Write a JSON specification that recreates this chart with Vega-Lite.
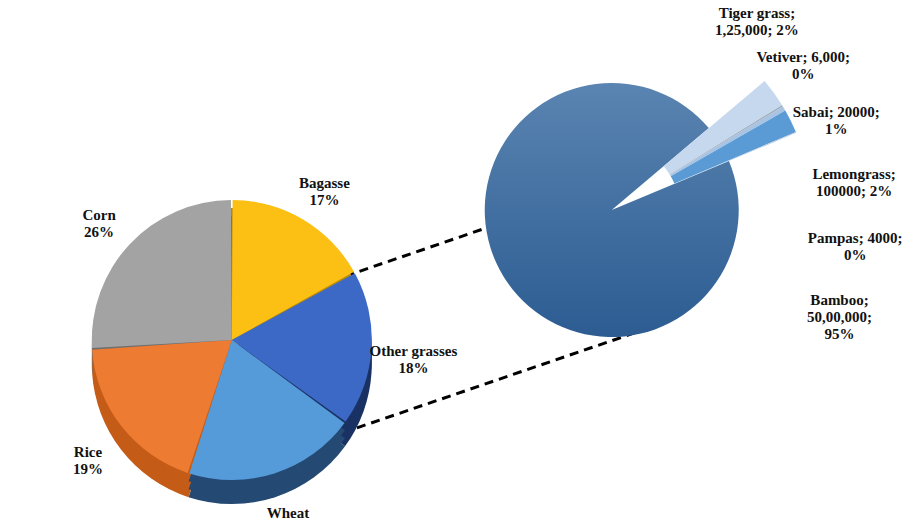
{
  "$schema": "https://vega.github.io/schema/vega-lite/v6.json",
  "width": 902,
  "height": 523,
  "autosize": "none",
  "padding": 0,
  "background": "white",
  "config": {"view": {"stroke": null}, "font": "Liberation Serif"},
  "datasets": {
    "residues": [
      {"pie": "Crop residues", "name": "Bagasse", "share": 17, "i": 1, "label": "Bagasse\n17%"},
      {"pie": "Crop residues", "name": "Other grasses", "share": 18, "i": 2, "label": "Other grasses\n18%"},
      {"pie": "Crop residues", "name": "Wheat", "share": 20, "i": 3, "label": "Wheat\n20%"},
      {"pie": "Crop residues", "name": "Rice", "share": 19, "i": 4, "label": "Rice\n19%"},
      {"pie": "Crop residues", "name": "Corn", "share": 26, "i": 5, "label": "Corn\n26%"}
    ],
    "grasses": [
      {"pie": "Grasses", "name": "Tiger grass", "amount": 125000, "i": 1, "label": "Tiger grass;\n1,25,000; 2%"},
      {"pie": "Grasses", "name": "Vetiver", "amount": 6000, "i": 2, "label": "Vetiver; 6,000;\n0%"},
      {"pie": "Grasses", "name": "Sabai", "amount": 20000, "i": 3, "label": "Sabai; 20000;\n1%"},
      {"pie": "Grasses", "name": "Lemongrass", "amount": 100000, "i": 4, "label": "Lemongrass;\n100000; 2%"},
      {"pie": "Grasses", "name": "Pampas", "amount": 4000, "i": 5, "label": "Pampas; 4000;\n0%"},
      {"pie": "Grasses", "name": "Bamboo", "amount": 5000000, "i": 6, "label": "Bamboo;\n50,00,000;\n95%"}
    ],
    "link": [{"pie": "Crop residues"}, {"pie": "Grasses"}]
  },
  "encoding": {
    "x": {"field": "pie", "type": "nominal", "axis": null,
          "scale": {"type": "point", "domain": ["Crop residues", "Grasses"], "padding": 0.687, "align": 0.444}},
    "y": {"field": "pie", "type": "nominal", "axis": null,
          "scale": {"type": "point", "domain": ["Grasses", "Crop residues"], "range": [210, 340], "padding": 0}}
  },
  "layer": [
    {
      "data": {"name": "link"},
      "mark": {"type": "line", "color": "black", "strokeWidth": 3, "strokeDash": [9, 6], "yOffset": -25}
    },
    {
      "data": {"name": "link"},
      "mark": {"type": "line", "color": "black", "strokeWidth": 3, "strokeDash": [9, 6], "xOffset": 40, "yOffset": 117}
    },
    {
      "data": {"name": "residues"},
      "mark": {"type": "arc", "radius": 140, "yOffset": 24},
      "encoding": {
        "theta": {"field": "share", "type": "quantitative", "stack": true},
        "order": {"field": "i", "type": "quantitative"},
        "color": {"field": "name", "type": "nominal", "legend": null,
                  "scale": {"domain": ["Bagasse", "Other grasses", "Wheat", "Rice", "Corn"],
                            "range": ["#b88a08", "#1a3163", "#244a74", "#c45c17", "#6f6f6f"]}}
      }
    },
    {
      "data": {"name": "residues"},
      "mark": {"type": "arc", "radius": 140, "yOffset": 16},
      "encoding": {
        "theta": {"field": "share", "type": "quantitative", "stack": true},
        "order": {"field": "i", "type": "quantitative"},
        "color": {"field": "name", "type": "nominal", "legend": null,
                  "scale": {"domain": ["Bagasse", "Other grasses", "Wheat", "Rice", "Corn"],
                            "range": ["#b88a08", "#1a3163", "#244a74", "#c45c17", "#6f6f6f"]}}
      }
    },
    {
      "data": {"name": "residues"},
      "mark": {"type": "arc", "radius": 140, "yOffset": 8},
      "encoding": {
        "theta": {"field": "share", "type": "quantitative", "stack": true},
        "order": {"field": "i", "type": "quantitative"},
        "color": {"field": "name", "type": "nominal", "legend": null,
                  "scale": {"domain": ["Bagasse", "Other grasses", "Wheat", "Rice", "Corn"],
                            "range": ["#b88a08", "#1a3163", "#244a74", "#c45c17", "#6f6f6f"]}}
      }
    },
    {
      "data": {"name": "residues"},
      "mark": {"type": "arc", "radius": 140, "padAngle": 0.012},
      "encoding": {
        "theta": {"field": "share", "type": "quantitative", "stack": true},
        "order": {"field": "i", "type": "quantitative"},
        "color": {"field": "name", "type": "nominal", "legend": null,
                  "scale": {"domain": ["Bagasse", "Other grasses", "Wheat", "Rice", "Corn"],
                            "range": ["#fcbf14", "#3d69c6", "#559ad9", "#ee7b32", "#a3a3a3"]}}
      }
    },
    {
      "data": {"name": "residues"},
      "mark": {"type": "text", "radius": 182, "lineBreak": "\n", "fontSize": 15, "fontWeight": "bold",
               "font": "Liberation Serif", "color": "#111111", "align": "center", "baseline": "middle"},
      "encoding": {
        "theta": {"field": "share", "type": "quantitative", "stack": true},
        "order": {"field": "i", "type": "quantitative"},
        "text": {"field": "label", "type": "nominal"}
      }
    },
    {
      "data": {"name": "grasses"},
      "mark": {"type": "arc", "radius": 127,
               "fill": {"gradient": "linear", "x1": 0, "y1": 0, "x2": 0, "y2": 1,
                        "stops": [{"offset": 0, "color": "#5a84b1"}, {"offset": 1, "color": "#2c5c92"}]}},
      "encoding": {
        "theta": {"field": "amount", "type": "quantitative", "stack": true, "scale": {"range": [0.87, 7.153]}},
        "order": {"field": "i", "type": "quantitative"},
        "opacity": {"condition": {"test": "datum.name !== 'Bamboo'", "value": 0}, "value": 1}
      }
    },
    {
      "data": {"name": "grasses"},
      "mark": {"type": "arc", "radius": 200, "radius2": 68},
      "encoding": {
        "theta": {"field": "amount", "type": "quantitative", "stack": true, "scale": {"range": [0.87, 7.153]}},
        "order": {"field": "i", "type": "quantitative"},
        "color": {"field": "name", "type": "nominal", "legend": null,
                  "scale": {"domain": ["Tiger grass", "Vetiver", "Sabai", "Lemongrass", "Pampas", "Bamboo"],
                            "range": ["#c6d8ee", "#9aa6b4", "#a9c3e3", "#5b9bd5", "#b7cde6", "#2c5c92"]}},
        "opacity": {"condition": {"test": "datum.name === 'Bamboo'", "value": 0}, "value": 1}
      }
    },
    {
      "data": {"name": "grasses"},
      "mark": {"type": "text", "radius": 245, "lineBreak": "\n", "fontSize": 15, "fontWeight": "bold",
               "font": "Liberation Serif", "color": "#111111", "align": "center", "baseline": "middle"},
      "encoding": {
        "theta": {"aggregate": "count", "type": "quantitative", "stack": true, "scale": {"range": [0.503, 2.079]}},
        "detail": {"field": "name", "type": "nominal"},
        "order": {"field": "i", "type": "quantitative"},
        "text": {"field": "label", "type": "nominal"}
      }
    }
  ],
  "resolve": {"scale": {"theta": "independent", "color": "independent"}}
}
